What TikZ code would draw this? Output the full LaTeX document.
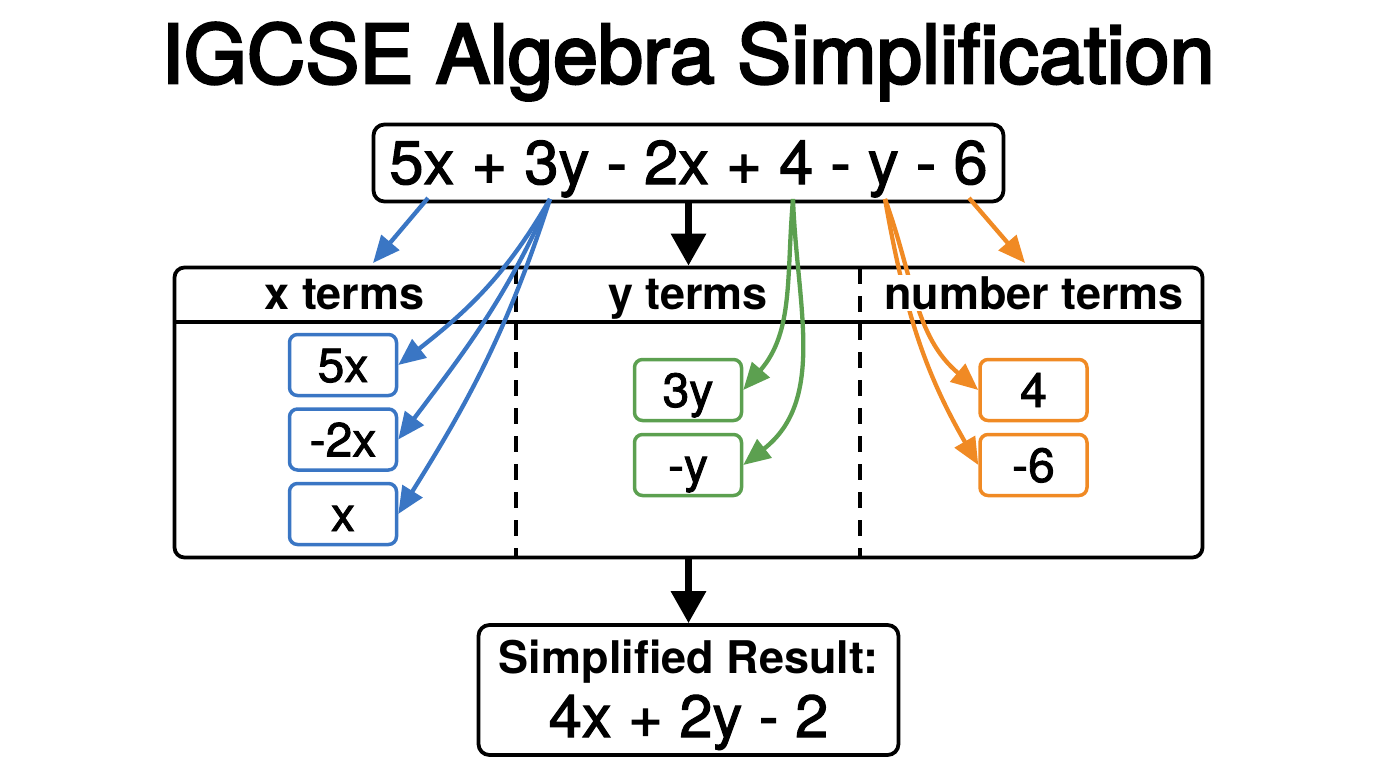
\documentclass[tikz,border=0pt]{standalone}
\usepackage{fontspec}
\setmainfont{TeX Gyre Heros}
\newfontfamily\titlefont[FakeBold=3.2]{TeX Gyre Heros}
\newfontfamily\medfont[FakeBold=1.8]{TeX Gyre Heros}
\usetikzlibrary{arrows.meta}
\definecolor{cblue}{RGB}{58,118,196}
\definecolor{cgreen}{RGB}{92,160,80}
\definecolor{corange}{RGB}{240,138,36}
\begin{document}
\begin{tikzpicture}[x=1pt,y=1pt,
  frame/.style={draw, line width=3.8pt, rounded corners=11pt, inner sep=0pt},
  termbox/.style={draw, line width=3.5pt, rounded corners=8pt, minimum width=107pt, minimum height=61pt,
    inner sep=0pt, font=\medfont\fontsize{48}{48}\selectfont, text height=34pt, text depth=0pt, fill=white},
  headlbl/.style={font=\bfseries\fontsize{45}{45}\selectfont, anchor=base, fill=white, inner sep=1.5pt},
  arr/.style={line width=4.3pt, -{Triangle[length=27pt,width=23pt]}},
  blk/.style={line width=6.5pt, -{Triangle[length=32pt,width=34pt]}},
  divider/.style={line width=4pt, dash pattern=on 16pt off 12pt}
]
\useasboundingbox (0,0) rectangle (1376,-768);

% title
\node[anchor=base, inner sep=0pt, font=\titlefont\fontsize{81}{81}\selectfont] (title) at (688,-83) {IGCSE Algebra Simplification};

% expression
\node[frame, minimum width=630pt, minimum height=77pt] (expr) at (688.5,-163) {};
\node[anchor=base, inner sep=0pt, font=\medfont\fontsize{61.5}{61.5}\selectfont] (exprtxt) at (688.5,-184) {5x + 3y - 2x + 4 - y - 6};

% table
\node[frame, rounded corners=10pt, minimum width=1028pt, minimum height=290pt] (table) at (688.5,-412.5) {};
\coordinate (hl) at (173,-322);
\coordinate (hr) at (1204,-322);
\draw[line width=3.8pt] (hl) -- (hr);
\coordinate (d1t) at (516,-268); \coordinate (d1b) at (516,-557);
\coordinate (d2t) at (860,-268); \coordinate (d2b) at (860,-557);
\draw[divider] (d1t) -- (d1b);
\draw[divider] (d2t) -- (d2b);

% term boxes
\node[termbox, draw=cblue] (x5) at (343,-365) {5x};
\node[termbox, draw=cblue] (x2) at (343,-439.5) {-2x};
\node[termbox, draw=cblue] (x1) at (343,-514) {x};
\node[termbox, draw=cgreen] (y3) at (688,-390) {3y};
\node[termbox, draw=cgreen] (y1) at (688,-465) {-y};
\node[termbox, draw=corange] (n4) at (1033.5,-390) {4};
\node[termbox, draw=corange] (n6) at (1033.5,-465) {-6};

% result
\node[frame, minimum width=420pt, minimum height=130pt] (result) at (688.5,-690) {};
\node[anchor=base, inner sep=0pt, font=\bfseries\fontsize{45}{45}\selectfont] (restitle) at (688.5,-673) {Simplified Result:};
\node[anchor=base, inner sep=0pt, font=\medfont\fontsize{59.5}{59.5}\selectfont] (resval) at (688.5,-737) {4x + 2y - 2};

% black arrows
\draw[blk] (expr.south) -- (table.north);
\draw[blk] (table.south) -- (result.north);

% start points
\coordinate (b0) at (428,-198);
\coordinate (b0e) at (373,-263);
\coordinate (bs) at (550,-199);
\coordinate (gs) at (793,-199);
\coordinate (os) at (885,-199);
\coordinate (o0) at (969,-198);
\coordinate (o0e) at (1025,-263);

% blue
\draw[arr, cblue] (b0) -- (b0e);
\draw[arr, cblue] (bs) to[out=240,in=38] (x5.east);
\draw[arr, cblue] (bs) to[out=246,in=53] (x2.east);
\draw[arr, cblue] (bs) to[out=252,in=58] (x1.east);
% green
\draw[arr, cgreen] (gs) to[out=265,in=49] (y3.east);
\draw[arr, cgreen] (gs) to[out=272,in=38] (y1.east);
% orange
\draw[arr, corange] (o0) -- (o0e);
\draw[arr, corange] (os) to[out=290,in=140] (n4.west);
\draw[arr, corange] (os) to[out=280,in=120] (n6.west);

% header labels
\node[headlbl] (hx) at (344.5,-309) {x terms};
\node[headlbl] (hy) at (688,-309) {y terms};
\node[headlbl] (hn) at (1034,-309) {number terms};
\end{tikzpicture}
\end{document}
